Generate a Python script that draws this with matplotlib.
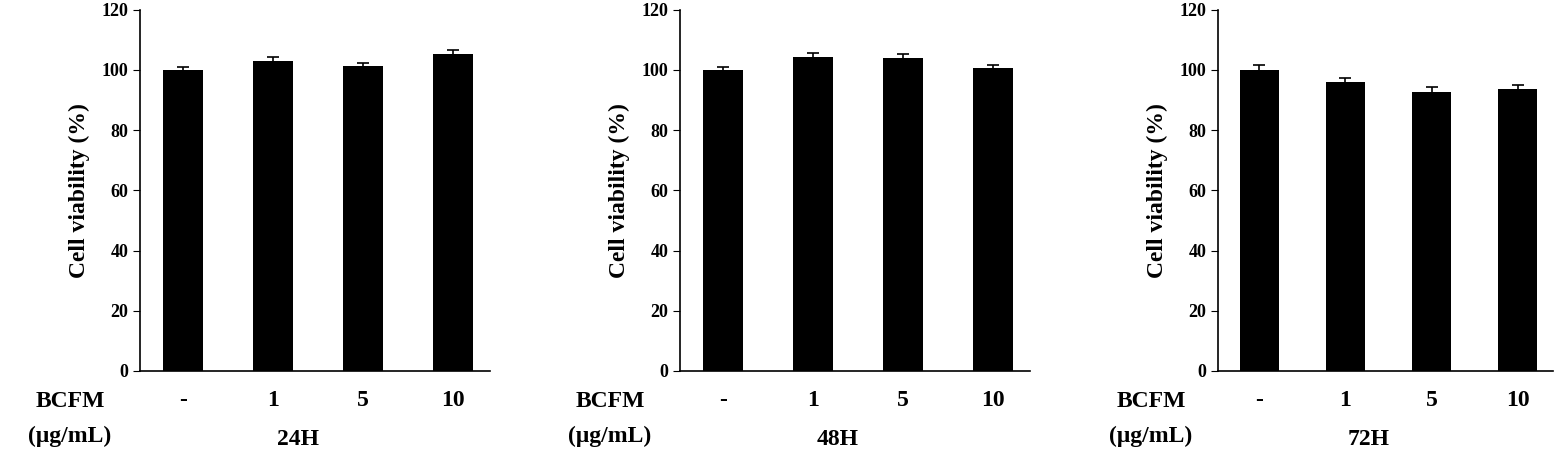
import matplotlib.pyplot as plt
import numpy as np

plt.rcParams['font.family'] = 'Liberation Serif'
plt.rcParams['font.weight'] = 'bold'

doses = ['-', '1', '5', '10']
times = ['24H', '48H', '72H']
means = [[100.0, 103.1, 101.3, 105.4],
         [100.0, 104.4, 104.0, 100.6],
         [100.0, 96.0, 92.8, 93.6]]
errs = [[1.1, 1.1, 1.1, 1.2],
        [1.1, 1.2, 1.3, 1.1],
        [1.5, 1.5, 1.6, 1.5]]

fig = plt.figure(figsize=(15.58, 4.66), dpi=100)
lefts = [0.0899, 0.4365, 0.7818]
widths = [0.2246, 0.2246, 0.2150]
x = np.arange(len(doses))
for i in range(3):
    ax = fig.add_axes([lefts[i], 0.204, widths[i], 0.775])
    ax.bar(x, means[i], width=0.45, color='black',
           yerr=errs[i], error_kw=dict(ecolor='black', capsize=4, elinewidth=1.2, capthick=1.2))
    ax.set_xlim(-0.48, 3.41)
    ax.set_ylim(0, 120)
    ax.set_yticks(range(0, 121, 20))
    ax.set_xticks(x)
    ax.set_xticklabels(doses, fontsize=17, fontweight='bold')
    ax.tick_params(axis='x', length=0, pad=14)
    ax.tick_params(axis='y', labelsize=13, direction='out', length=5)
    for s in ['top', 'right']:
        ax.spines[s].set_visible(False)
    for s in ['left', 'bottom']:
        ax.spines[s].set_linewidth(1.2)
    ax.set_ylabel('Cell viability (%)', fontsize=17, fontweight='bold', labelpad=8)
    ax.text(-0.2, -0.085, 'BCFM', transform=ax.transAxes, fontsize=17,
            fontweight='bold', ha='center', va='center')
    ax.text(-0.2, -0.18, '(\u03bcg/mL)', transform=ax.transAxes, fontsize=17,
            fontweight='bold', ha='center', va='center')
    ax.text(0.45, -0.19, times[i], transform=ax.transAxes, fontsize=17,
            fontweight='bold', ha='center', va='center')

fig.savefig('out.png', dpi=100)
